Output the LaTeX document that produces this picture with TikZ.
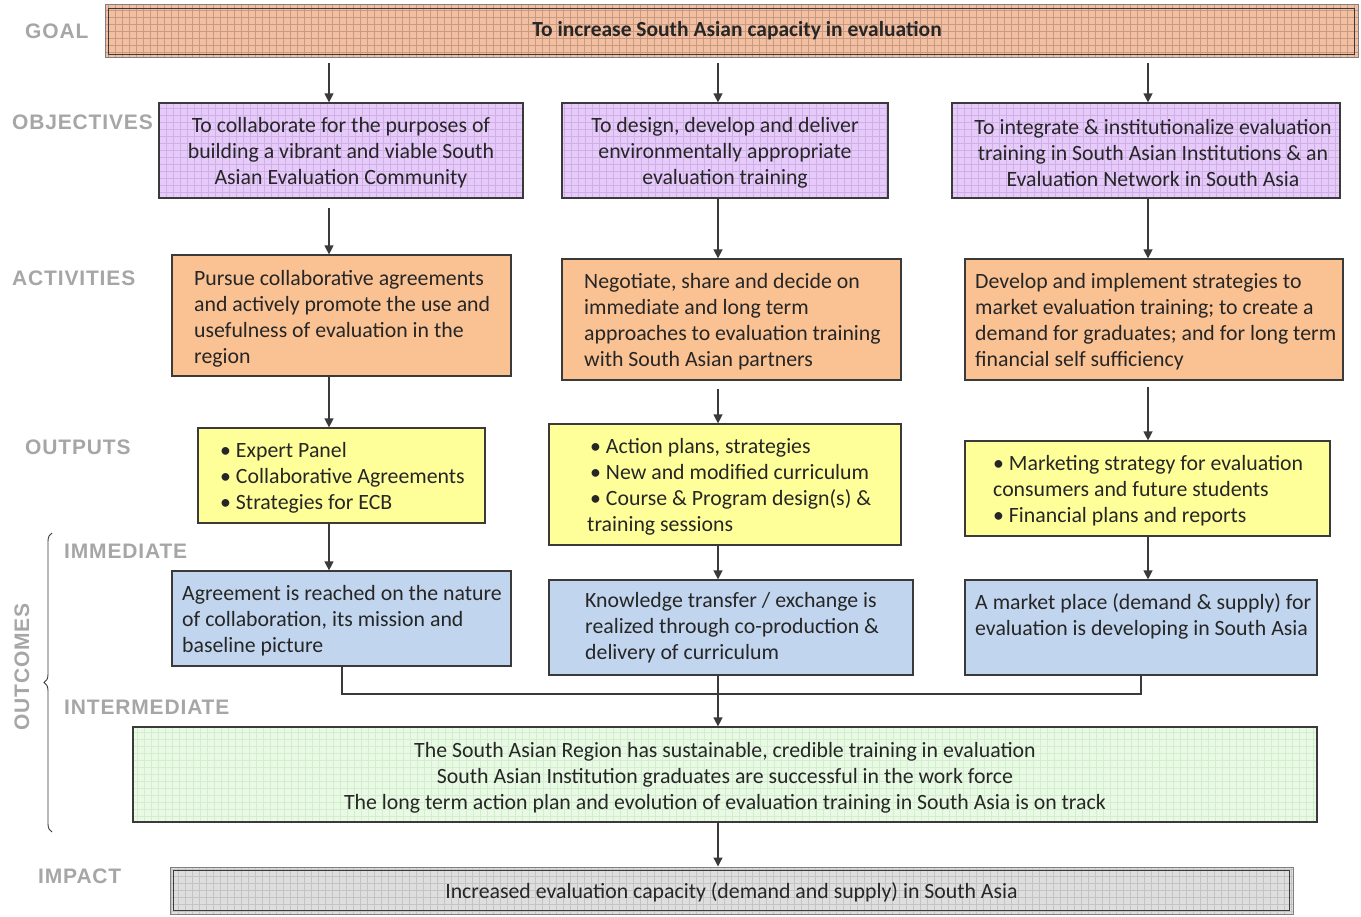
\documentclass[tikz,border=0pt]{standalone}
\usepackage{fontspec}
\setmainfont{Carlito}
\newfontfamily\lblfont{Liberation Sans}[LetterSpace=4]
\usetikzlibrary{arrows.meta,decorations.pathreplacing}
\definecolor{bordercol}{HTML}{3A3A3A}
\definecolor{txt}{HTML}{262626}
\definecolor{lbl}{HTML}{A6A6A6}
\definecolor{goalfill}{HTML}{F3BFA3}
\definecolor{goalgrid}{HTML}{C89A80}
\definecolor{objfill}{HTML}{E6CBFA}
\definecolor{objgrid}{HTML}{CFB0E6}
\definecolor{actfill}{HTML}{FAC293}
\definecolor{outfill}{HTML}{FFFF99}
\definecolor{immfill}{HTML}{C2D5EE}
\definecolor{intfill}{HTML}{E8FAE4}
\definecolor{intgrid}{HTML}{D4EDD0}
\definecolor{impfill}{HTML}{DEDEDE}
\definecolor{impgrid}{HTML}{C4C4C4}
\tikzset{
  box/.style={rectangle, draw=bordercol, line width=1.2pt, inner sep=0pt},
  gridded/.style={path picture={\draw[#1, line width=0.5pt, step=7pt]
    (path picture bounding box.south west) grid (path picture bounding box.north east);}},
  ctext/.style={inner sep=0pt, text=txt, align=center, font=\fontsize{21.8}{26}\selectfont},
  btext/.style={anchor=west, inner sep=0pt, text=txt, align=left, font=\fontsize{21.8}{26}\selectfont},
  lab/.style={anchor=west, inner sep=0pt, text=lbl, font=\lblfont\bfseries\fontsize{21}{24}\selectfont},
  arr/.style={draw=bordercol, line width=1.3pt, -{Triangle[length=9pt,width=9pt]}},
  conn/.style={draw=bordercol, line width=1.3pt},
}
\begin{document}
\begin{tikzpicture}[x=1pt,y=-1pt]
\useasboundingbox (0,0) rectangle (1361,917);
% labels
\node[lab] (lgoal) at (25,31) {GOAL};
\node[lab] (lobj) at (12,122) {OBJECTIVES};
\node[lab] (lact) at (12,278) {ACTIVITIES};
\node[lab] (lout) at (25,447) {OUTPUTS};
\node[lab] (limm) at (64,551) {IMMEDIATE};
\node[lab] (lint) at (64,707) {INTERMEDIATE};
\node[lab] (limp) at (38,876) {IMPACT};
\node[lab, anchor=center, rotate=90] (loutc) at (22,667) {OUTCOMES};
\coordinate (bb) at (52,832);
\coordinate (bt) at (52,533);
\draw[bordercol, line width=0.9pt, decorate, decoration={brace, amplitude=8pt}] (bb) -- (bt);
% goal
\node[box, fill=goalfill, gridded=goalgrid, draw=gray, line width=1pt, minimum width=1253pt, minimum height=53pt] (goal) at (731.5,31.5) {};
\draw[bordercol, line width=1.4pt] ([shift={(4,4)}]goal.north west) rectangle ([shift={(-4,-4)}]goal.south east);
\node[ctext, font=\bfseries\fontsize{21.5}{26}\selectfont] (goalt) at (737,31) {To increase South Asian capacity in evaluation};
% objectives
\node[box, fill=objfill, gridded=objgrid, minimum width=364pt, minimum height=95pt] (o1) at (341,150.5) {};
\node[ctext] (o1t) at (341,153) {To collaborate for the purposes of\\building a vibrant and viable South\\Asian Evaluation Community};
\node[box, fill=objfill, gridded=objgrid, minimum width=326pt, minimum height=95pt] (o2) at (725,150.5) {};
\node[ctext] (o2t) at (725,153) {To design, develop and deliver\\environmentally appropriate\\evaluation training};
\node[box, fill=objfill, gridded=objgrid, minimum width=388pt, minimum height=95pt] (o3) at (1146,150.5) {};
\node[ctext] (o3t) at (1153,153) {To integrate \& institutionalize evaluation\\training in South Asian Institutions \& an\\Evaluation Network in South Asia};
% activities
\node[box, fill=actfill, minimum width=339pt, minimum height=121pt] (a1) at (341.5,315.5) {};
\node[btext] (a1t) at (194,318.5) {Pursue collaborative agreements\\and actively promote the use and\\usefulness of evaluation in the\\region};
\node[box, fill=actfill, minimum width=339pt, minimum height=121pt] (a2) at (731.5,319.5) {};
\node[btext] (a2t) at (584,322) {Negotiate, share and decide on\\immediate and long term\\approaches to evaluation training\\with South Asian partners};
\node[box, fill=actfill, minimum width=378pt, minimum height=121pt] (a3) at (1154,319.5) {};
\node[btext] (a3t) at (975,322) {Develop and implement strategies to\\market evaluation training; to create a\\demand for graduates; and for long term\\financial self sufficiency};
% outputs
\node[box, fill=outfill, minimum width=287pt, minimum height=95pt] (p1) at (341.5,475.5) {};
\node[btext] (p1t) at (220,478) {• Expert Panel\\• Collaborative Agreements\\• Strategies for ECB};
\node[box, fill=outfill, minimum width=352pt, minimum height=121pt] (p2) at (725,484.5) {};
\node[btext] (p2t) at (587,487) {\hspace{3pt}• Action plans, strategies\\\hspace{3pt}• New and modified curriculum\\\hspace{3pt}• Course \& Program design(s) \&\\training sessions};
\node[box, fill=outfill, minimum width=365pt, minimum height=95pt] (p3) at (1147.5,488.5) {};
\node[btext] (p3t) at (993,491) {• Marketing strategy for evaluation\\consumers and future students\\• Financial plans and reports};
% immediate outcomes
\node[box, fill=immfill, minimum width=339pt, minimum height=95pt] (i1) at (341.5,618.5) {};
\node[btext] (i1t) at (182,621) {Agreement is reached on the nature\\of collaboration, its mission and\\baseline picture};
\node[box, fill=immfill, minimum width=364pt, minimum height=95pt] (i2) at (731,627.5) {};
\node[btext] (i2t) at (585,628) {Knowledge transfer / exchange is\\realized through co-production \&\\delivery of curriculum};
\node[box, fill=immfill, minimum width=352pt, minimum height=95pt] (i3) at (1141,627.5) {};
\node[btext] (i3t) at (975,616) {A market place (demand \& supply) for\\evaluation is developing in South Asia};
% intermediate
\node[box, fill=intfill, gridded=intgrid, minimum width=1184pt, minimum height=95pt] (im) at (725,774.5) {};
\node[ctext] (imt) at (725,777.5) {The South Asian Region has sustainable, credible training in evaluation\\South Asian Institution graduates are successful in the work force\\The long term action plan and evolution of evaluation training in South Asia is on track};
% impact
\node[box, fill=impfill, gridded=impgrid, draw=gray, line width=1pt, minimum width=1123pt, minimum height=47pt] (imp) at (731.5,890.5) {};
\draw[bordercol, line width=1.4pt] ([shift={(4,4)}]imp.north west) rectangle ([shift={(-4,-4)}]imp.south east);
\node[ctext] (impt) at (731.5,892) {Increased evaluation capacity (demand and supply) in South Asia};
% connectors
\coordinate (c1) at (329,0);
\coordinate (c2) at (718,0);
\coordinate (c3) at (1148,0);
\draw[arr] ([yshift=-5pt]goal.south -| c1) -- (o1.north -| c1);
\draw[arr] ([yshift=-5pt]goal.south -| c2) -- (o2.north -| c2);
\draw[arr] ([yshift=-5pt]goal.south -| c3) -- (o3.north -| c3);
\draw[arr] ([yshift=-9pt]o1.south -| c1) -- (a1.north -| c1);
\draw[arr] (o2.south -| c2) -- (a2.north -| c2);
\draw[arr] (o3.south -| c3) -- (a3.north -| c3);
\draw[arr] (a1.south -| c1) -- (p1.north -| c1);
\draw[arr] ([yshift=-8pt]a2.south -| c2) -- (p2.north -| c2);
\draw[arr] ([yshift=-6pt]a3.south -| c3) -- (p3.north -| c3);
\draw[arr] (p1.south -| c1) -- (i1.north -| c1);
\draw[arr] (p2.south -| c2) -- (i2.north -| c2);
\draw[arr] (p3.south -| c3) -- (i3.north -| c3);
\coordinate (m1) at (342,694);
\coordinate (m3) at (1141,694);
\draw[conn] (i1.south -| m1) -- (m1) -- (m3) -- (i3.south -| m3);
\draw[arr] (i2.south -| c2) -- (im.north -| c2);
\draw[arr] (im.south -| c2) -- (imp.north -| c2);
\end{tikzpicture}
\end{document}
